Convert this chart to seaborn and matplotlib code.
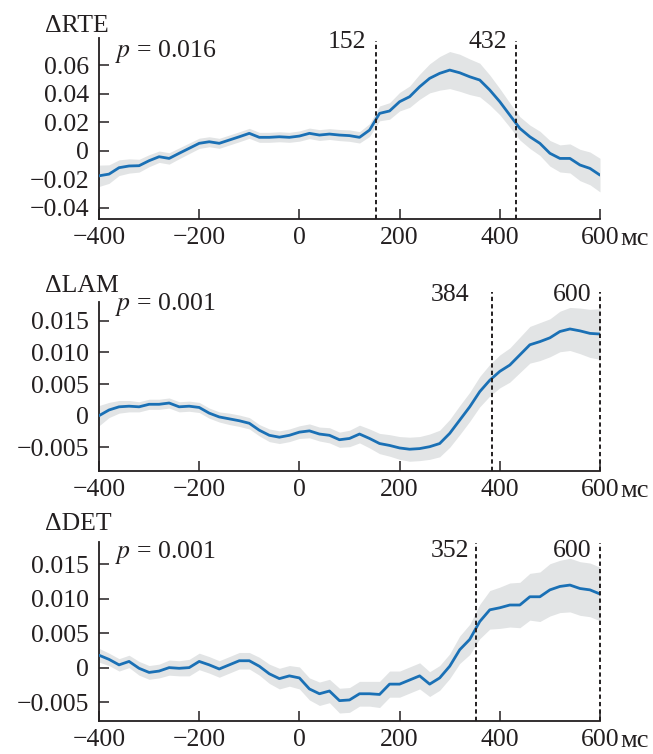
import matplotlib
matplotlib.use("Agg")
import matplotlib.pyplot as plt
import matplotlib.transforms as mtransforms
import numpy as np
import seaborn as sns

# ---------------- data ----------------
TIME_MS = list(range(-400, 601, 20))

RTE_MEAN = [-0.0176, -0.0164, -0.0119, -0.0107, -0.0105, -0.0070, -0.0042, -0.0054, -0.0018, 0.0017,
            0.0052, 0.0063, 0.0052, 0.0075, 0.0098, 0.0122, 0.0094, 0.0094, 0.0098, 0.0094,
            0.0103, 0.0122, 0.0110, 0.0117, 0.0110, 0.0106, 0.0094, 0.0145, 0.0262, 0.0279,
            0.0344, 0.0379, 0.0449, 0.0508, 0.0543, 0.0566, 0.0547, 0.0519, 0.0496, 0.0426,
            0.0344, 0.0250, 0.0157, 0.0098, 0.0052, -0.0018, -0.0054, -0.0054, -0.0100, -0.0124,
            -0.0171]
RTE_ERR = [0.0075, 0.0065, 0.0055, 0.0050, 0.0045, 0.0042, 0.0040, 0.0040, 0.0038, 0.0037,
           0.0036, 0.0035, 0.0035, 0.0035, 0.0035, 0.0035, 0.0035, 0.0035, 0.0035, 0.0035,
           0.0036, 0.0037, 0.0038, 0.0038, 0.0039, 0.0040, 0.0040, 0.0045, 0.0052, 0.0058,
           0.0065, 0.0075, 0.0088, 0.0102, 0.0118, 0.0130, 0.0130, 0.0125, 0.0118, 0.0105,
           0.0092, 0.0085, 0.0082, 0.0082, 0.0085, 0.0090, 0.0095, 0.0102, 0.0110, 0.0115,
           0.0118]

LAM_MEAN = [0.0000, 0.0009, 0.0014, 0.0015, 0.0014, 0.0018, 0.0018, 0.0020, 0.0014, 0.0015,
            0.0013, 0.0004, -0.0002, -0.0005, -0.0008, -0.0012, -0.0023, -0.0031, -0.0034, -0.0031,
            -0.0026, -0.0024, -0.0029, -0.0031, -0.0038, -0.0036, -0.0029, -0.0036, -0.0044, -0.0047,
            -0.0051, -0.0053, -0.0052, -0.0049, -0.0044, -0.0028, -0.0007, 0.0014, 0.0038, 0.0056,
            0.0070, 0.0080, 0.0096, 0.0112, 0.0117, 0.0123, 0.0133, 0.0137, 0.0134, 0.0130,
            0.0129]
LAM_ERR = [0.0016, 0.0012, 0.0010, 0.0009, 0.0008, 0.0008, 0.0008, 0.0008, 0.0008, 0.0008,
           0.0008, 0.0008, 0.0008, 0.0009, 0.0009, 0.0009, 0.0009, 0.0010, 0.0010, 0.0010,
           0.0010, 0.0011, 0.0011, 0.0012, 0.0012, 0.0013, 0.0014, 0.0015, 0.0016, 0.0017,
           0.0018, 0.0019, 0.0019, 0.0020, 0.0021, 0.0022, 0.0023, 0.0023, 0.0024, 0.0025,
           0.0026, 0.0027, 0.0028, 0.0029, 0.0030, 0.0030, 0.0032, 0.0034, 0.0036, 0.0038,
           0.0040]

DET_MEAN = [0.0018, 0.0012, 0.0004, 0.0009, -0.0001, -0.0007, -0.0005, 0.0000, -0.0001, 0.0000,
            0.0009, 0.0004, -0.0002, 0.0004, 0.0010, 0.0010, 0.0002, -0.0009, -0.0016, -0.0012,
            -0.0015, -0.0031, -0.0038, -0.0034, -0.0048, -0.0047, -0.0038, -0.0038, -0.0039, -0.0024,
            -0.0024, -0.0018, -0.0012, -0.0024, -0.0015, 0.0002, 0.0026, 0.0041, 0.0067, 0.0084,
            0.0087, 0.0091, 0.0091, 0.0103, 0.0103, 0.0113, 0.0118, 0.0120, 0.0115, 0.0113,
            0.0107]
DET_ERR = [0.0010, 0.0009, 0.0009, 0.0009, 0.0010, 0.0010, 0.0010, 0.0011, 0.0011, 0.0012,
           0.0012, 0.0012, 0.0012, 0.0012, 0.0012, 0.0012, 0.0013, 0.0014, 0.0015, 0.0015,
           0.0016, 0.0016, 0.0017, 0.0017, 0.0018, 0.0018, 0.0018, 0.0018, 0.0019, 0.0019,
           0.0019, 0.0019, 0.0019, 0.0018, 0.0018, 0.0018, 0.0020, 0.0022, 0.0025, 0.0028,
           0.0030, 0.0032, 0.0033, 0.0034, 0.0036, 0.0038, 0.0038, 0.0039, 0.0039, 0.0039,
           0.0039]

TITLES = ["\u0394RTE", "\u0394LAM", "\u0394DET"]
P_TEXTS = ["0.016", "0.001", "0.001"]
VLINES = [[152, 432], [384, 600], [352, 600]]
X_TICKS = [-400, -200, 0, 200, 400, 600]
Y_TICKS = [[-0.04, -0.02, 0, 0.02, 0.04, 0.06],
           [-0.005, 0, 0.005, 0.010, 0.015],
           [-0.005, 0, 0.005, 0.010, 0.015]]
Y_LABELS = [["\u22120.04", "\u22120.02", "0", "0.02", "0.04", "0.06"],
            ["\u22120.005", "0", "0.005", "0.010", "0.015"],
            ["\u22120.005", "0", "0.005", "0.010", "0.015"]]
X_LABELS = ["\u2212400", "\u2212200", "0", "200", "400", "600"]
YLIMS = [(-0.0479, 0.0791), (-0.00874, 0.01796), (-0.00776, 0.01826)]
UNIT = "\u043c\u0441"

# ---------------- style ----------------
sns.set_theme(style="ticks")
plt.rcParams["font.family"] = ["Liberation Serif", "DejaVu Serif"]
plt.rcParams["mathtext.fontset"] = "stix"
TXT = "#231f20"
LINE_C = "#1a70b5"
BAND_C = "#e2e4e5"
FS = 18.5

W, H = 653, 754
fig = plt.figure(figsize=(W / 100, H / 100), dpi=100)

# axes boxes in pixels: (left, top, right, bottom)
boxes = [(99, 38, 600, 219), (99, 302, 600, 471), (99, 542, 600, 721)]
title_base = [32, 292, 530]
p_base = [57, 310, 558]
vlab_base = [[48, 48], [301, 301], [557, 557]]
vlab_off = [[-9, -9], [-22, -9], [-7, -8]]
vline_top = [41, 292, 543]

series = [(RTE_MEAN, RTE_ERR), (LAM_MEAN, LAM_ERR), (DET_MEAN, DET_ERR)]

for i, (mean, err) in enumerate(series):
    l, t, r, b = boxes[i]
    ax = fig.add_axes([l / W, 1 - b / H, (r - l) / W, (b - t) / H])
    m = np.array(mean)
    e = np.array(err)
    ax.fill_between(TIME_MS, m - e, m + e, color=BAND_C, lw=0, zorder=1)
    sns.lineplot(x=TIME_MS, y=mean, ax=ax, color=LINE_C, lw=2.0, zorder=3)
    ax.set_xlim(-400, 600)
    ax.set_ylim(*YLIMS[i])
    ax.set_xticks(X_TICKS)
    ax.set_xticklabels(X_LABELS)
    ax.set_yticks(Y_TICKS[i])
    ax.set_yticklabels(Y_LABELS[i])
    ax.tick_params(direction="in", length=7, width=1.1, color="#231f20",
                   labelsize=FS, labelcolor=TXT, pad=6)
    ax.tick_params(axis="y", pad=7)
    sns.despine(ax=ax)
    for s in ["left", "bottom"]:
        ax.spines[s].set_linewidth(1.3)
        ax.spines[s].set_color("#231f20")
    ax.set_xlabel("")
    ax.set_ylabel("")

    # dashed vertical lines
    ymax = (b - vline_top[i]) / (b - t)
    trans_lab = mtransforms.blended_transform_factory(ax.transData, fig.transFigure)
    for j, xv in enumerate(VLINES[i]):
        ax.axvline(xv, ymin=0, ymax=ymax, color="#231f20", lw=1.4,
                   ls=(0, (2.2, 1.6)), clip_on=False, zorder=4)
        ax.annotate(str(xv), xy=(xv, 1 - vlab_base[i][j] / H), xycoords=trans_lab,
                    xytext=(vlab_off[i][j], 0), textcoords="offset pixels",
                    ha="right", va="baseline", fontsize=FS, color=TXT)

    # title and p-value
    fig.text(45 / W, 1 - title_base[i] / H, TITLES[i], ha="left", va="baseline",
             fontsize=FS, color=TXT)
    fig.text(115 / W, 1 - p_base[i] / H, r"$p$ = " + P_TEXTS[i], ha="left",
             va="baseline", fontsize=FS, color=TXT)

    # unit after the last x tick label
    ax.annotate(UNIT, xy=(600, 0), xycoords=("data", "axes fraction"),
                xytext=(20, -26), textcoords="offset pixels",
                ha="left", va="baseline", fontsize=FS + 0.5, color=TXT)

fig.savefig("out.png", dpi=100)
